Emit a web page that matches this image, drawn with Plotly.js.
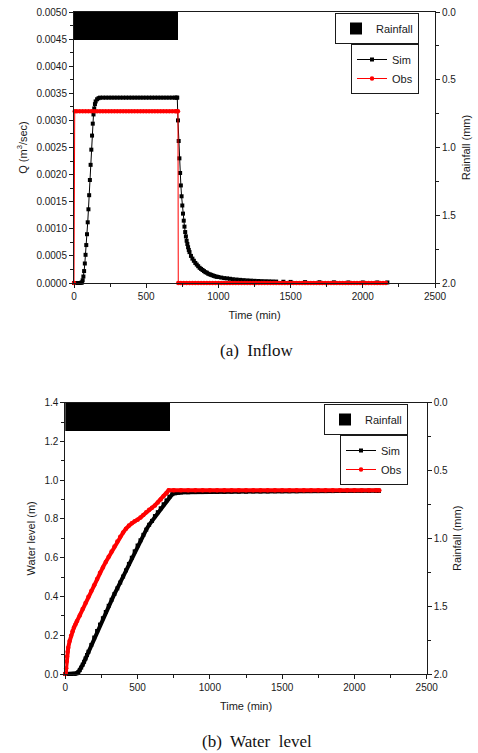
<!DOCTYPE html>
<html>
<head>
<meta charset="utf-8">
<script src="https://cdn.plot.ly/plotly-3.0.1.min.js"></script>
<style>html,body{margin:0;padding:0;background:#fff;}#chart{width:478px;height:753px;}</style>
</head>
<body>
<div id="chart"></div>
<script>
// ---------- Rainfall (both panels) ----------
const rainTime = [30, 90, 150, 210, 270, 330, 390, 450, 510, 570, 630, 690];
const rainDepth = [0.21, 0.21, 0.21, 0.21, 0.21, 0.21, 0.21, 0.21, 0.21, 0.21, 0.21, 0.21];
const rainStep = 60;

// ---------- (a) Inflow : Sim ----------
const simTimeA = [
  0, 10, 20, 30, 40, 50,
  55, 60, 65, 70, 75, 80, 85, 90, 95, 100, 105, 110, 115, 120, 125, 130, 135, 140, 145, 150,
  160, 170, 180,
  200, 220, 240, 260, 280, 300, 320, 340, 360, 380, 400, 420, 440, 460, 480, 500, 520, 540, 560, 580, 600, 620, 640, 660, 680, 700, 710, 715,
  720, 725, 730, 735, 740, 745, 750, 755, 760, 765, 770, 775, 780, 785, 790, 795, 800,
  810, 820, 830, 840, 850, 860, 870, 880, 890, 900, 910, 920, 930, 940, 950, 960, 970, 980, 990, 1000,
  1020, 1040, 1060, 1080, 1100,
  1125, 1150, 1175, 1200, 1225, 1250, 1275, 1300, 1325, 1350, 1375, 1400,
  1450, 1500, 1600, 1700, 1800, 1900, 2000, 2100, 2170
];
const simQA = [
  0, 0, 0, 0, 0, 0.000005,
  0.00001, 0.00005, 0.00012, 0.00022, 0.00036, 0.00052, 0.0007, 0.0009, 0.00112, 0.00136, 0.00162, 0.0019, 0.00218, 0.00246, 0.00272, 0.00294, 0.00311, 0.00322, 0.0033, 0.00335,
  0.00339, 0.00341, 0.00342,
  0.00342, 0.00342, 0.00342, 0.00342, 0.00342, 0.00342, 0.00342, 0.00342, 0.00342, 0.00342, 0.00342, 0.00342, 0.00342, 0.00342, 0.00342, 0.00342, 0.00342, 0.00342, 0.00342, 0.00342, 0.00342, 0.00342, 0.00342, 0.00342, 0.00342, 0.00342, 0.00342, 0.00342,
  0.003, 0.00262, 0.0023, 0.00203, 0.0018, 0.0016, 0.00143, 0.00128, 0.00115, 0.00104, 0.00094, 0.00086, 0.00078, 0.00072, 0.00066, 0.00061, 0.00057,
  0.0005, 0.00045, 0.00041, 0.00037, 0.00034, 0.00031, 0.00028, 0.00026, 0.00024, 0.00022, 0.0002, 0.00019, 0.00017, 0.00016, 0.00015, 0.00014, 0.00013, 0.00012, 0.000115, 0.00011,
  0.0001, 0.00009, 0.000085, 0.000078, 0.00007,
  0.000064, 0.000058, 0.000053, 0.000048, 0.000044, 0.00004, 0.000037, 0.000034, 0.000032, 0.00003, 0.000028, 0.000026,
  0.000023, 0.00002, 0.000016, 0.000014, 0.000012, 0.00001, 0.00001, 0.00001, 0.00001
];

// ---------- (a) Inflow : Obs ----------
const obsTimeA = [
  0, 5,
  20, 40, 60, 80, 100, 120, 140, 160, 180, 200, 220, 240, 260, 280, 300, 320, 340, 360, 380, 400, 420, 440, 460, 480, 500, 520, 540, 560, 580, 600, 620, 640, 660, 680, 700,
  710, 720, 722,
  740, 760, 780, 800, 820, 840, 860, 880, 900, 920, 940, 960, 980, 1000, 1020, 1040, 1060, 1080, 1100, 1120, 1140, 1160, 1180, 1200,
  1220, 1240, 1260, 1280, 1300, 1320, 1340, 1360, 1380, 1400, 1420, 1440, 1460, 1480, 1500, 1520, 1540, 1560, 1580, 1600, 1620, 1640,
  1660, 1680, 1700, 1720, 1740, 1760, 1780, 1800, 1820, 1840, 1860, 1880, 1900, 1920, 1940, 1960, 1980, 2000, 2020, 2040, 2060, 2080,
  2100, 2120, 2140, 2160
];
const obsQA = [
  0, 0.00317,
  0.00317, 0.00317, 0.00317, 0.00317, 0.00317, 0.00317, 0.00317, 0.00317, 0.00317, 0.00317, 0.00317, 0.00317, 0.00317, 0.00317, 0.00317, 0.00317, 0.00317, 0.00317, 0.00317, 0.00317, 0.00317, 0.00317, 0.00317, 0.00317, 0.00317, 0.00317, 0.00317, 0.00317, 0.00317, 0.00317, 0.00317, 0.00317, 0.00317, 0.00317, 0.00317,
  0.00317, 0.00317, 0,
  0, 0, 0, 0, 0, 0, 0, 0, 0, 0, 0, 0, 0, 0, 0, 0, 0, 0, 0, 0, 0, 0, 0, 0,
  0, 0, 0, 0, 0, 0, 0, 0, 0, 0, 0, 0, 0, 0, 0, 0, 0, 0, 0, 0, 0, 0,
  0, 0, 0, 0, 0, 0, 0, 0, 0, 0, 0, 0, 0, 0, 0, 0, 0, 0, 0, 0, 0, 0,
  0, 0, 0, 0
];

// ---------- (b) Water level : Sim ----------
const simTimeB = [
  0, 20, 40, 60, 70, 80, 90, 100, 110, 120, 130, 140, 150, 160,
  180, 200, 220, 240, 260, 280, 300, 320, 340, 360, 380, 400, 420, 440, 460, 480, 500, 520, 540, 560, 580, 600, 620, 640, 660, 680, 700, 720, 740, 760, 780, 800,
  850, 900, 950, 1000, 1050, 1100, 1150, 1200, 1250, 1300, 1350, 1400, 1450, 1500, 1550, 1600, 1650, 1700, 1750, 1800, 1850, 1900, 1950, 2000, 2050, 2100, 2150, 2170
];
const simHB = [
  0, 0, 0, 0.0005, 0.001, 0.004, 0.01, 0.02, 0.033, 0.048, 0.063, 0.08, 0.098, 0.115,
  0.15, 0.188, 0.222, 0.255, 0.288, 0.32, 0.352, 0.383, 0.413, 0.442, 0.472, 0.503, 0.535, 0.568, 0.6, 0.633, 0.663, 0.69, 0.718, 0.745, 0.77, 0.79, 0.815, 0.835, 0.855, 0.876, 0.896, 0.915, 0.928, 0.933, 0.936, 0.937,
  0.938, 0.939, 0.939, 0.94, 0.94, 0.94, 0.941, 0.941, 0.941, 0.942, 0.942, 0.942, 0.943, 0.943, 0.943, 0.943, 0.944, 0.944, 0.944, 0.944, 0.944, 0.945, 0.945, 0.945, 0.945, 0.945, 0.945, 0.945
];

// ---------- (b) Water level : Obs ----------
const obsTimeB = [
  0, 3, 6, 9, 12, 16, 20, 30, 40, 50, 60, 70, 80,
  100, 120, 140, 160, 180, 200, 220, 240, 260, 280, 300, 320, 340, 360, 380, 400, 420, 440, 460, 480, 500, 520, 540, 560, 580, 600, 620, 640, 660, 680, 700,
  715, 750, 800, 850, 900, 950, 1000, 1050, 1100, 1150, 1200, 1250, 1300, 1350, 1400, 1450, 1500, 1550, 1600, 1650, 1700, 1750, 1800, 1850, 1900, 1950, 2000, 2050, 2100, 2150, 2172
];
const obsHB = [
  0, 0.005, 0.03, 0.065, 0.09, 0.115, 0.135, 0.17, 0.198, 0.22, 0.24, 0.256, 0.272,
  0.302, 0.335, 0.366, 0.398, 0.428, 0.458, 0.49, 0.522, 0.55, 0.578, 0.605, 0.632, 0.658, 0.684, 0.708, 0.73, 0.75, 0.766, 0.778, 0.788, 0.796, 0.807, 0.82, 0.835, 0.848, 0.858, 0.87, 0.885, 0.9, 0.918, 0.933,
  0.948, 0.948, 0.948, 0.948, 0.948, 0.948, 0.948, 0.948, 0.948, 0.948, 0.948, 0.948, 0.948, 0.948, 0.948, 0.948, 0.948, 0.948, 0.948, 0.948, 0.948, 0.948, 0.948, 0.948, 0.948, 0.948, 0.948, 0.948, 0.948, 0.948, 0.948
];

// ---------- Text ----------
const xTitle = 'Time (min)';
const qTitle = 'Q (m<sup>3</sup>/sec)';
const hTitle = 'Water level (m)';
const rTitle = 'Rainfall (mm)';
const captionA = '(a)\u00a0 Inflow';
const captionB = '(b)\u00a0 Water\u00a0 level';

// ---------- Styling helpers ----------
const INK = '#1a1a1a';
const W = 478, H = 753;
const px = v => v / W;
const py = v => 1 - v / H;

function xAxis(dom, anchor) {
  return {
    domain: dom, anchor: anchor, range: [0, 2500], tick0: 0, dtick: 500,
    ticks: 'outside', ticklen: 4, tickwidth: 1, tickcolor: INK,
    minor: {dtick: 250, ticks: 'outside', ticklen: 3, tickwidth: 1, tickcolor: INK},
    showline: true, linecolor: INK, linewidth: 1, mirror: true,
    showgrid: false, zeroline: false, fixedrange: true,
    title: {text: xTitle, font: {size: 11}, standoff: 10}
  };
}
function leftAxis(dom, anchor, rng, dt, fmt, mdt, title) {
  return {
    domain: dom, anchor: anchor, range: rng, tick0: 0, dtick: dt, tickformat: fmt,
    ticks: 'outside', ticklen: 4, tickwidth: 1, tickcolor: INK,
    minor: {dtick: mdt, ticks: 'outside', ticklen: 3, tickwidth: 1, tickcolor: INK},
    showline: true, linecolor: INK, linewidth: 1,
    showgrid: false, zeroline: false, fixedrange: true,
    title: {text: title, font: {size: 11}, standoff: 6}
  };
}
function rightAxis(over, anchor) {
  return {
    overlaying: over, anchor: anchor, side: 'right', range: [2, 0], tick0: 0, dtick: 0.5, tickformat: '.1f',
    ticks: 'outside', ticklen: 4, tickwidth: 1, tickcolor: INK,
    minor: {dtick: 0.25, ticks: 'outside', ticklen: 3, tickwidth: 1, tickcolor: INK},
    showline: true, linecolor: INK, linewidth: 1,
    showgrid: false, zeroline: false, fixedrange: true,
    title: {text: rTitle, font: {size: 11}, standoff: 6}
  };
}

const traces = [
  // (a) rainfall
  {type: 'bar', x: rainTime, y: rainDepth, width: rainStep + 2, xaxis: 'x', yaxis: 'y2',
   name: 'Rainfall', legend: 'legend',
   marker: {color: '#000', line: {width: 0}}},
  // (a) Sim
  {type: 'scatter', mode: 'lines+markers', x: simTimeA, y: simQA, xaxis: 'x', yaxis: 'y',
   name: 'Sim', legend: 'legend2', cliponaxis: false,
   line: {color: '#000', width: 1}, marker: {symbol: 'square', size: 4, color: '#000'}},
  // (a) Obs
  {type: 'scatter', mode: 'lines+markers', x: obsTimeA, y: obsQA, xaxis: 'x', yaxis: 'y',
   name: 'Obs', legend: 'legend2', cliponaxis: false,
   line: {color: '#ff0000', width: 1}, marker: {symbol: 'circle', size: 4.5, color: '#ff0000'}},
  // (b) rainfall
  {type: 'bar', x: rainTime, y: rainDepth, width: rainStep + 2, xaxis: 'x2', yaxis: 'y4',
   name: 'Rainfall', legend: 'legend3',
   marker: {color: '#000', line: {width: 0}}},
  // (b) Sim (band + markers)
  {type: 'scatter', mode: 'lines', x: simTimeB, y: simHB, xaxis: 'x2', yaxis: 'y3',
   showlegend: false, hoverinfo: 'skip', cliponaxis: false,
   line: {color: '#000', width: 4}},
  {type: 'scatter', mode: 'lines+markers', x: simTimeB, y: simHB, xaxis: 'x2', yaxis: 'y3',
   name: 'Sim', legend: 'legend4', cliponaxis: false,
   line: {color: '#000', width: 1}, marker: {symbol: 'square', size: 4, color: '#000'}},
  // (b) Obs (band + markers)
  {type: 'scatter', mode: 'lines', x: obsTimeB, y: obsHB, xaxis: 'x2', yaxis: 'y3',
   showlegend: false, hoverinfo: 'skip', cliponaxis: false,
   line: {color: '#ff0000', width: 4}},
  {type: 'scatter', mode: 'lines+markers', x: obsTimeB, y: obsHB, xaxis: 'x2', yaxis: 'y3',
   name: 'Obs', legend: 'legend4', cliponaxis: false,
   line: {color: '#ff0000', width: 1}, marker: {symbol: 'circle', size: 4.5, color: '#ff0000'}}
];

const legendBase = {
  xanchor: 'right', yanchor: 'top', bgcolor: '#fff', bordercolor: INK, borderwidth: 1,
  font: {size: 11, color: INK}, itemwidth: 30, tracegroupgap: 0
};

const layout = {
  width: W, height: H,
  margin: {l: 0, r: 0, t: 0, b: 0, pad: 0},
  paper_bgcolor: '#fff', plot_bgcolor: 'rgba(0,0,0,0)',
  font: {family: 'Liberation Sans, Arial, sans-serif', size: 10, color: INK},
  bargap: 0, showlegend: true, hovermode: false,
  xaxis: xAxis([px(74), px(435)], 'y'),
  yaxis: leftAxis([py(283), py(12)], 'x', [0, 0.005], 0.0005, '.4f', 0.00025, qTitle),
  yaxis2: rightAxis('y', 'x'),
  xaxis2: xAxis([px(65.3), px(426.7)], 'y3'),
  yaxis3: leftAxis([py(674), py(402.7)], 'x2', [0, 1.4], 0.2, '.1f', 0.1, hTitle),
  yaxis4: rightAxis('y3', 'x2'),
  legend: Object.assign({}, legendBase, {x: px(419), y: py(13)}),
  legend2: Object.assign({}, legendBase, {x: px(419), y: py(44)}),
  legend3: Object.assign({}, legendBase, {x: px(408), y: py(404)}),
  legend4: Object.assign({}, legendBase, {x: px(408), y: py(435)}),
  annotations: [
    {text: captionA, xref: 'paper', yref: 'paper', x: px(256.7), y: py(350), xanchor: 'center', yanchor: 'middle',
     showarrow: false, font: {family: 'Liberation Serif, Times New Roman, serif', size: 17, color: '#111'}},
    {text: captionB, xref: 'paper', yref: 'paper', x: px(256.7), y: py(741.7), xanchor: 'center', yanchor: 'middle',
     showarrow: false, font: {family: 'Liberation Serif, Times New Roman, serif', size: 17, color: '#111'}}
  ]
};

Plotly.newPlot('chart', traces, layout, {staticPlot: true, displayModeBar: false});
</script>
</body>
</html>
